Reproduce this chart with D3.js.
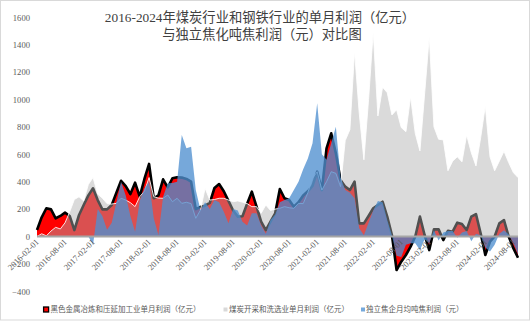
<!DOCTYPE html>
<html>
<head>
<meta charset="utf-8">
<script src="https://cdn.jsdelivr.net/npm/d3@7"></script>
<style>
  html, body { margin: 0; padding: 0; background: #fff; }
  svg { display: block; }
</style>
</head>
<body>
<svg id="chart" width="531" height="322"></svg>
<script>
// Monthly profit, ferrous metal smelting & rolling (100M yuan)
const steelProfit = [
  47, 140, 206, 198, 133, 150, 174, 150, 47, 157,
  230, 300, 352, 266, 198, 198, 230, 320, 407, 368,
  310, 393, 291, 420, 530, 279, 300, 417, 359, 425,
  432, 430, 420, 400, 200, 215, 225, 245, 354, 383,
  330, 260, 190, 145, 148, 240, 327, 220, 108, 47,
  108, 169, 347, 279, 266, 218, 250, 300, 330, 370,
  473, 339, 644, 753, 607, 412, 364, 339, 400, 96,
  96, 150, 206, 230, 254, 145, 11, -245, -184, -135,
  -74, 0, 145, 11, -99, 52, 52, -26, 42, 35,
  101, 91, 47, 145, 164, 23, -135, -38, 0, 96,
  120, 0, -85, -155
];
// Monthly profit, coal mining & washing (100M yuan)
const coalProfit = [
  0, 20, 5, 40, 67, 55, 100, 180, 270, 290,
  260, 380, 430, 310, 280, 240, 237, 242, 279, 266,
  247, 218, 291, 330, 430, 291, 280, 279, 303, 254,
  279, 242, 250, 240, 133, 193, 352, 266, 270, 279,
  279, 266, 254, 260, 250, 240, 218, 218, 170, 230,
  190, 200, 206, 218, 210, 206, 242, 240, 320, 425,
  473, 339, 400, 473, 461, 364, 700, 780, 1350, 900,
  560, 1000, 1495, 880, 1090, 1050, 887, 925, 795, 765,
  1020, 753, 625, 1040, 1458, 801, 710, 705, 480, 550,
  582, 545, 741, 612, 515, 720, 953, 582, 480, 550,
  622, 540, 467, 430
];
// Independent coking plants, average profit per tonne of coke (yuan)
const cokeProfit = [
  0, 0, 0, 0, 0, 0, 0, 0, 0, 0,
  0, 0, -60, 200, 150, 50, 100, 250, 400, 300,
  150, 35, 260, 350, 400, 133, 11, 291, 388, 390,
  400, 741, 644, 655, 339, 193, 250, 200, 266, 250,
  180, 96, 200, 190, 108, 80, 169, 169, 80, 20,
  120, 160, 250, 266, 280, 340, 400, 490, 570, 680,
  972, 600, 560, 680, 801, 430, 340, 320, 280, 60,
  10, 100, 190, 260, 250, 120, 10, -140, -150, -60,
  -50, -50, -99, -20, -50, 45, -30, 30, 40, 40,
  -10, 30, 40, -35, 20, 10, -80, -110, -60, 20,
  45, 15, -50, -130
];
const xTickLabels = [
  "2016-02-01", "2016-08-01", "2017-02-01", "2017-08-01", "2018-02-01",
  "2018-08-01", "2019-02-01", "2019-08-01", "2020-02-01", "2020-08-01",
  "2021-02-01", "2021-08-01", "2022-02-01", "2022-08-01", "2023-02-01",
  "2023-08-01", "2024-02-01", "2024-08-01"
];
const yTickValues = [-400, -200, 0, 200, 400, 600, 800, 1000, 1200, 1400, 1600];
const titleLines = [
  "2016-2024年煤炭行业和钢铁行业的单月利润（亿元）",
  "与独立焦化吨焦利润（元）对比图"
];
const legendLabels = [
  "黑色金属冶炼和压延加工业单月利润（亿元）",
  "煤炭开采和洗选业单月利润（亿元）",
  "独立焦企月均吨焦利润（元）"
];

// Monthly category axis, one point per month
const months = d3.timeMonth
  .range(new Date(2016, 1, 1), new Date(2024, 8 + 1, 1))
  .map(d3.timeFormat("%Y-%m-%d"));

const svg = d3.select("#chart");
const W = 531, H = 322;

svg.append("rect").attr("x", 0).attr("y", 0).attr("width", W).attr("height", H).attr("fill", "#fff");
svg.append("rect")
  .attr("x", 0.5).attr("y", 0.5).attr("width", W - 2).attr("height", H - 2.5)
  .attr("fill", "none").attr("stroke", "#D9D9D9").attr("stroke-width", 1);

const x = d3.scalePoint().domain(months).range([37, 518]);
const y = d3.scaleLinear().domain([-400, 1600]).range([291.3, 17.3]);
const y0 = y(0);

const rows = months.map((m, i) => ({ m, steel: steelProfit[i], coal: coalProfit[i], coke: cokeProfit[i] }));

const areaOf = key => d3.area().x(d => x(d.m)).y0(y0).y1(d => y(d[key]));
const lineOf = key => d3.line().x(d => x(d.m)).y(d => y(d[key]));

const plot = svg.append("g");

// Steel: solid red with a heavy black outline
plot.append("path").datum(rows).attr("d", areaOf("steel")).attr("fill", "#FF0000");
plot.append("path").datum(rows).attr("d", lineOf("steel"))
  .attr("fill", "none").attr("stroke", "#000").attr("stroke-width", 2.6)
  .attr("stroke-linejoin", "round");

// Coal: translucent grey with a thin white outline
plot.append("path").datum(rows).attr("d", areaOf("coal"))
  .attr("fill", "rgb(174,174,174)").attr("fill-opacity", 0.46);
plot.append("path").datum(rows).attr("d", lineOf("coal"))
  .attr("fill", "none").attr("stroke", "#fff").attr("stroke-opacity", 0.85)
  .attr("stroke-width", 1);

// Coke: translucent blue
plot.append("path").datum(rows).attr("d", areaOf("coke"))
  .attr("fill", "#4F8FD0").attr("fill-opacity", 0.78);

// Zero line
svg.append("line")
  .attr("x1", 37).attr("x2", 518).attr("y1", y0).attr("y2", y0)
  .attr("stroke", "#A6A6A6").attr("stroke-width", 1.8);

// Y axis labels
const yAxis = svg.append("g").attr("transform", "translate(33,0)")
  .call(d3.axisLeft(y).tickValues(yTickValues).tickSize(0).tickPadding(3).tickFormat(d3.format("d")));
yAxis.select(".domain").remove();
yAxis.selectAll("text")
  .attr("font-family", "'Liberation Serif', 'Times New Roman', serif")
  .attr("font-size", 8.6).attr("fill", "#595959");

// X axis labels, rotated
const xAxis = svg.append("g").attr("transform", `translate(0,${y0})`)
  .call(d3.axisBottom(x).tickValues(xTickLabels).tickSize(0));
xAxis.select(".domain").remove();
xAxis.selectAll("text")
  .attr("font-family", "'Liberation Serif', 'Times New Roman', serif")
  .attr("font-size", 8.6).attr("fill", "#595959")
  .attr("text-anchor", "end")
  .attr("dy", null).attr("y", 0)
  .attr("transform", "translate(2,6) rotate(-45)");

// Title
svg.append("g").selectAll("text").data(titleLines).join("text")
  .attr("x", (d, i) => i === 0 ? 260 : 262)
  .attr("y", (d, i) => i === 0 ? 21.5 : 39)
  .attr("text-anchor", "middle")
  .attr("font-family", "'Liberation Serif', 'Noto Sans CJK SC', serif")
  .attr("font-size", 13.3).attr("fill", "#404040")
  .text(d => d);

// Legend
const legend = svg.append("g");
const legendFont = "'Noto Sans CJK SC', sans-serif";
legend.append("rect").attr("x", 43.6).attr("y", 307).attr("width", 5).attr("height", 5)
  .attr("fill", "#FF0000").attr("stroke", "#000").attr("stroke-width", 1.3);
legend.append("rect").attr("x", 223.5).attr("y", 307.5).attr("width", 4).attr("height", 4)
  .attr("fill", "#D9D9D9");
legend.append("rect").attr("x", 361).attr("y", 307.5).attr("width", 4).attr("height", 4)
  .attr("fill", "#76A9DC");
const legendX = [50.5, 229, 366];
legend.selectAll("text").data(legendLabels).join("text")
  .attr("x", (d, i) => legendX[i]).attr("y", 312.3)
  .attr("font-family", legendFont).attr("font-size", 7.5).attr("fill", "#595959")
  .text(d => d);
</script>
</body>
</html>
